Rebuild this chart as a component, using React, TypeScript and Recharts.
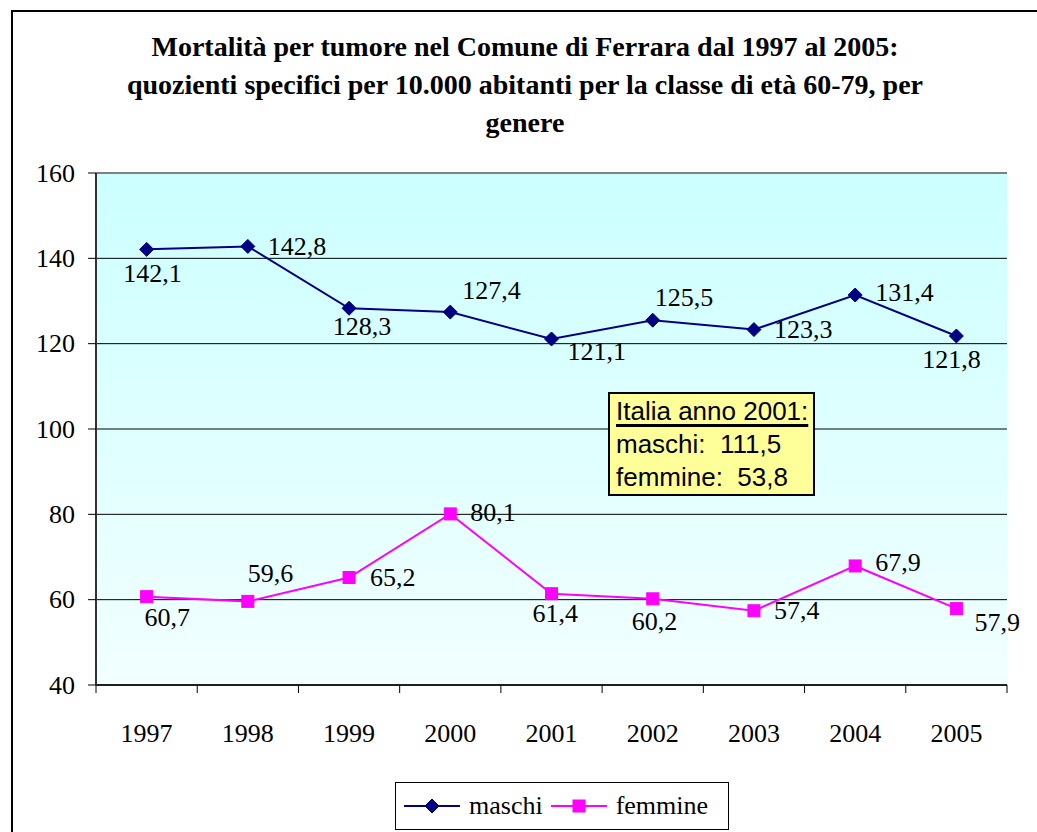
import React from 'react';
import { LineChart, Line, XAxis, YAxis, CartesianGrid, LabelList, ReferenceLine } from 'recharts';

const years = ['1997', '1998', '1999', '2000', '2001', '2002', '2003', '2004', '2005'];
const maschi = [142.1, 142.8, 128.3, 127.4, 121.1, 125.5, 123.3, 131.4, 121.8];
const femmine = [60.7, 59.6, 65.2, 80.1, 61.4, 60.2, 57.4, 67.9, 57.9];
const yTicks = [40, 60, 80, 100, 120, 140, 160];

// label placement [dx, dy, anchor], tuned to the original
const maschiLabelPos: [number, number, string][] = [
  [6, 24, 'middle'], [20, 0, 'start'], [13, 18, 'middle'], [12, -22, 'start'], [16, 13, 'start'],
  [2, -23, 'start'], [20, 0, 'start'], [20, -3, 'start'], [-5, 24, 'middle'],
];
const femmineLabelPos: [number, number, string][] = [
  [-2, 21, 'start'], [0, -28, 'start'], [21, 0, 'start'], [20, -1, 'start'], [-19, 20, 'start'],
  [-21, 23, 'start'], [20, 0, 'start'], [20, -3, 'start'], [18, 14, 'start'],
];

const data = years.map((year, i) => ({ year, maschi: maschi[i], femmine: femmine[i] }));

const NAVY = '#000080';
const PINK = '#FF00FF';
const SERIF = '"Liberation Serif", Tinos, "Times New Roman", Times, "DejaVu Serif", serif';
const SANS = '"Liberation Sans", Arial, sans-serif';

const fmt = (v: number) => v.toFixed(1).replace('.', ',');

const PLOT_LEFT = 96;
const PLOT_RIGHT = 1007;
const BAND = (PLOT_RIGHT - PLOT_LEFT) / years.length;

const Diamond = (props: any) => {
  const { cx, cy } = props;
  if (cx == null || cy == null) return null;
  const r = 7;
  return <path d={`M${cx},${cy - r}L${cx + r},${cy}L${cx},${cy + r}L${cx - r},${cy}Z`} fill={NAVY} stroke={NAVY} />;
};

const Square = (props: any) => {
  const { cx, cy } = props;
  if (cx == null || cy == null) return null;
  const s = 6;
  return <rect x={cx - s} y={cy - s} width={s * 2} height={s * 2} fill={PINK} stroke={PINK} />;
};

const makeLabel = (pos: [number, number, string][]) => (props: any) => {
  const { x, y, value, index } = props;
  const [dx, dy, anchor] = pos[index];
  return (
    <text x={x + dx} y={y + dy} textAnchor={anchor as any} dominantBaseline="central"
      style={{ fontFamily: SERIF, fontSize: 26 }} fill="#000">
      {fmt(value)}
    </text>
  );
};

const XTick = (props: any) => {
  const { x, y, payload, index } = props;
  const left = x - BAND / 2;
  const right = x + BAND / 2;
  return (
    <g>
      <line x1={left} y1={y - 8} x2={left} y2={y} stroke="#000" strokeWidth={1} />
      {index === years.length - 1 && <line x1={right} y1={y - 8} x2={right} y2={y} stroke="#000" strokeWidth={1} />}
      <text x={x} y={y + 40} textAnchor="middle" dominantBaseline="central" style={{ fontFamily: SERIF, fontSize: 26 }} fill="#000">
        {payload.value}
      </text>
    </g>
  );
};

const YTick = (props: any) => {
  const { x, y, payload } = props;
  return (
    <text x={x} y={y} textAnchor="end" dominantBaseline="central" style={{ fontFamily: SERIF, fontSize: 26 }} fill="#000">
      {payload.value}
    </text>
  );
};

const App = () => (
  <div style={{ position: 'absolute', left: 0, top: 0, width: 1037, height: 832, overflow: 'hidden', background: '#fff', fontFamily: SERIF }}>
    <div style={{ position: 'absolute', left: 11, top: 10, width: 1100, height: 900, border: '2px solid #000', boxSizing: 'border-box' }} />
    <div style={{ position: 'absolute', left: 25, width: 1000, top: 28, textAlign: 'center', fontWeight: 'bold', fontSize: 28, lineHeight: '38px', color: '#000', fontFamily: SERIF }}>
      Mortalità per tumore nel Comune di Ferrara dal 1997 al 2005:<br />
      quozienti specifici per 10.000 abitanti per la classe di età 60-79, per<br />
      genere
    </div>
    <div style={{ position: 'absolute', left: 0, top: 0 }}>
      <LineChart width={1037} height={832} data={data} margin={{ top: 173, right: 30, bottom: 87, left: 0 }}>
        <defs>
          <linearGradient id="bgGrad" x1="0" y1="0" x2="0" y2="1">
            <stop offset="0%" stopColor="#CCFFFF" />
            <stop offset="100%" stopColor="#F2FFFF" />
          </linearGradient>
        </defs>
        <CartesianGrid vertical={false} stroke="#000" strokeWidth={1} fill="url(#bgGrad)" fillOpacity={1} />
        <XAxis dataKey="year" scale="band" height={60} axisLine={{ stroke: '#000', strokeWidth: 1.5 }} tickLine={false} tick={<XTick />} interval={0} />
        <YAxis width={96} domain={[40, 160]} ticks={yTicks} interval={0} axisLine={{ stroke: '#333', strokeWidth: 2 }}
          tickLine={{ stroke: '#000' }} tickSize={8} tickMargin={13} tick={<YTick />} />
        <YAxis yAxisId="frame" orientation="right" width={0} tick={false} tickLine={false} axisLine={{ stroke: '#808080', strokeWidth: 2 }} />
        <ReferenceLine y={160} stroke="#808080" strokeWidth={2} />
        <Line type="linear" dataKey="maschi" stroke={NAVY} strokeWidth={2} dot={<Diamond />} activeDot={false} isAnimationActive={false}>
          <LabelList dataKey="maschi" content={makeLabel(maschiLabelPos)} />
        </Line>
        <Line type="linear" dataKey="femmine" stroke={PINK} strokeWidth={2} dot={<Square />} activeDot={false} isAnimationActive={false}>
          <LabelList dataKey="femmine" content={makeLabel(femmineLabelPos)} />
        </Line>
      </LineChart>
    </div>
    <div style={{ position: 'absolute', left: 608, top: 392, width: 207, height: 104, background: '#FFFF99', border: '2px solid #000', boxSizing: 'border-box', fontFamily: SANS, fontSize: 26, color: '#000', padding: '1px 0 0 6px', lineHeight: '33px' }}>
      <div><span style={{ textDecoration: 'underline', textDecorationThickness: 3, textUnderlineOffset: 4 }}>Italia anno 2001:</span></div>
      <div style={{ whiteSpace: 'pre' }}>maschi:  111,5</div>
      <div style={{ whiteSpace: 'pre' }}>femmine:  53,8</div>
    </div>
    <div style={{ position: 'absolute', left: 395, top: 782, width: 334, height: 48, border: '1.5px solid #000', boxSizing: 'border-box', background: '#fff', display: 'flex', alignItems: 'center', fontFamily: SERIF, fontSize: 26 }}>
      <svg width={56} height={20} style={{ marginLeft: 8 }}>
        <line x1={0} y1={10} x2={56} y2={10} stroke={NAVY} strokeWidth={2} />
        <Diamond cx={28} cy={10} />
      </svg>
      <span style={{ marginLeft: 9 }}>maschi</span>
      <svg width={56} height={20} style={{ marginLeft: 8 }}>
        <line x1={0} y1={10} x2={56} y2={10} stroke={PINK} strokeWidth={2} />
        <Square cx={28} cy={10} />
      </svg>
      <span style={{ marginLeft: 9 }}>femmine</span>
    </div>
  </div>
);

export default App;
